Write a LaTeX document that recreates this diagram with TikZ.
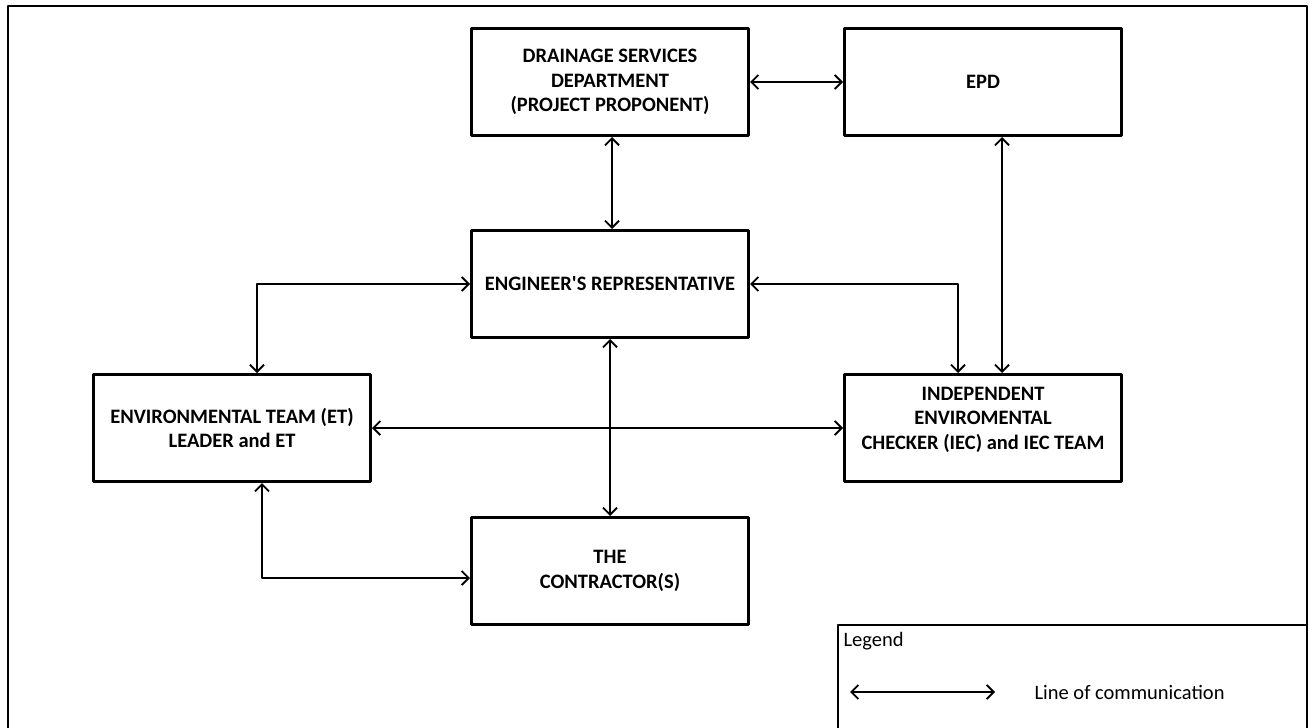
\documentclass[tikz,border=0pt]{standalone}
\usepackage{fontspec}
\setmainfont{Carlito}
\usetikzlibrary{arrows.meta}
\begin{document}
\begin{tikzpicture}[x=1pt, y=-1pt, font=\fontsize{20.5}{24.5}\selectfont, line join=round, >={Straight Barb[length=7pt,width=14pt]},
	unit/.style={draw, line width=3pt, minimum width=277pt, minimum height=107pt, align=center, font=\fontsize{20.5}{24.5}\selectfont\bfseries},
	com/.style={<->, line width=1.8pt}]
	\useasboundingbox (0,0) rectangle (1312,728);
	\draw[line width=2pt] (8,728) -- (8,6) -- (1307,6) -- (1307,728); % khung
	\node[unit] (dsd) at (610,82) {DRAINAGE SERVICES\\DEPARTMENT\\(PROJECT PROPONENT)};
	\node[unit] (epd) at (983,82) {EPD};
	\node[unit] (er) at (610,284) {ENGINEER\textquotesingle S REPRESENTATIVE};
	\node[unit] (et) at (232,428) {ENVIRONMENTAL TEAM (ET)\\LEADER and ET};
	\node[unit, text depth=20pt] (iec) at (983,428) {INDEPENDENT\\ENVIROMENTAL\\CHECKER (IEC) and IEC TEAM};
	\node[unit] (con) at (610,571) {THE\\CONTRACTOR(S)};
	\draw[com] (dsd) -- (epd);
	\draw[com] ([xshift=2pt]dsd.south) -- ([xshift=2pt]er.north);
	\draw[com] ([xshift=19pt]epd.south) -- ([xshift=19pt]iec.north);
	\draw[com] (er.west) -| ([xshift=25pt]et.north);
	\draw[com] (er.east) -| ([xshift=-25pt]iec.north);
	\draw[com] (er) -- (con);
	\draw[com] (et) -- (iec);
	\draw[com] ([xshift=30pt]et.south) |- ([yshift=-7pt]con.west);
	% legend
	\draw[line width=2pt] (838,728) -- (838,625) -- (1307,625);
	\node[anchor=west] (leg) at (840,641) {Legend};
	\coordinate (la) at (850,692);
	\coordinate (lb) at (995,692);
	\draw[com] (la) -- (lb);
	\node[anchor=west] (loc) at (1031,692) {Line of communication};
\end{tikzpicture}
\end{document}
